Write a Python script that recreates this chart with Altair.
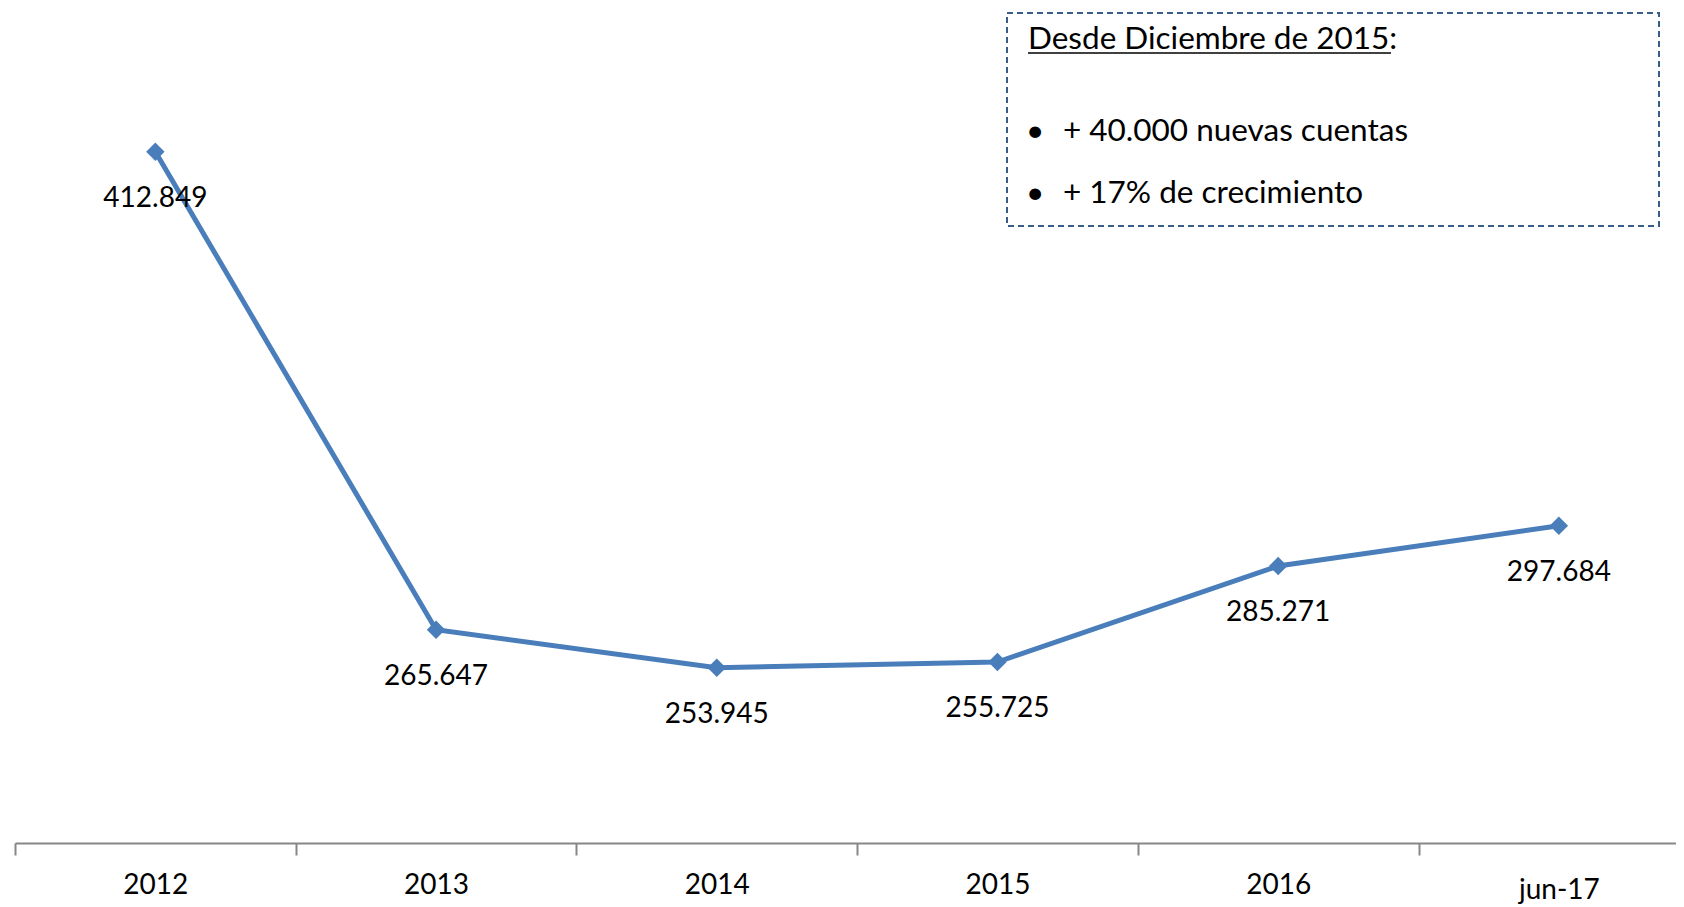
import altair as alt
import pandas as pd

categories = ["2012", "2013", "2014", "2015", "2016", "jun-17"]
values = [412849, 265647, 253945, 255725, 285271, 297684]
box_title = "Desde Diciembre de 2015"
box_bullets = ["+ 40.000 nuevas cuentas", "+ 17% de crecimiento"]

df = pd.DataFrame({"idx": list(range(len(categories))), "cat": categories, "value": values})

FONT = "Lato"
FS = 28
BFS = 31.5
BLUE = "#4A7EBB"
GRAY = "#878787"
W, H = 1661, 812
STEP = 280.7

label_expr = "[" + ",".join(f"'{c}'" for c in categories) + "][round(datum.value + 0.5)]"

x_axis = alt.Axis(
    values=[i - 0.5 for i in range(len(categories))],
    labelExpr=label_expr,
    labelOffset=STEP / 2,
    labelPadding={"condition": {"test": "datum.value > 4", "value": 35}, "value": 30},
    labelBaseline="middle",
    labelAlign="center",
    labelFont=FONT,
    labelFontSize=FS,
    labelColor="black",
    labelFlush=False,
    labelOverlap=False,
    labelBound=False,
    domainColor=GRAY,
    domainWidth=2,
    tickColor=GRAY,
    tickWidth=2,
    tickSize=12,
    grid=False,
    title=None,
)

x_enc = alt.X("idx:Q", scale=alt.Scale(domain=[-0.5, W / STEP - 0.5], nice=False, zero=False), axis=x_axis)
y_enc = alt.Y("value:Q", scale=alt.Scale(domain=[200000, 450000], nice=False, zero=False), axis=None)

base = alt.Chart(df).encode(x=x_enc, y=y_enc)

line = base.mark_line(color=BLUE, strokeWidth=5)
points = base.mark_point(shape="diamond", filled=True, size=340, color=BLUE, opacity=1)
labels = base.transform_calculate(
    lbl="replace(format(datum.value, ','), ',', '.')"
).mark_text(dy=47, fontSize=FS, font=FONT, color="black", align="center", baseline="middle").encode(text="lbl:N")

one = pd.DataFrame({"a": [0]})
box = alt.Chart(one).mark_rect(fill="white", fillOpacity=0, stroke="#385D8A", strokeWidth=2, strokeDash=[6, 4]).encode(
    x=alt.value(992), x2=alt.value(1644), y=alt.value(-18), y2=alt.value(195)
)
title_txt = alt.Chart(one).mark_text(align="left", baseline="middle", fontSize=BFS, font=FONT, color="black").encode(
    x=alt.value(1013), y=alt.value(9), text=alt.value(box_title + ":")
)
underline = alt.Chart(one).mark_rule(color="black", strokeWidth=1.5).encode(
    x=alt.value(1013), x2=alt.value(1376), y=alt.value(22)
)
bullet_dots = alt.Chart(one).mark_text(align="left", baseline="middle", fontSize=BFS, font=FONT, color="black", text="•").encode(
    x=alt.value(1011), y=alt.value(101)
)
bullet_dots2 = alt.Chart(one).mark_text(align="left", baseline="middle", fontSize=BFS, font=FONT, color="black", text="•").encode(
    x=alt.value(1011), y=alt.value(163)
)
b1 = alt.Chart(one).mark_text(align="left", baseline="middle", fontSize=BFS, font=FONT, color="black").encode(
    x=alt.value(1048), y=alt.value(101), text=alt.value(box_bullets[0])
)
b2 = alt.Chart(one).mark_text(align="left", baseline="middle", fontSize=BFS, font=FONT, color="black").encode(
    x=alt.value(1048), y=alt.value(163), text=alt.value(box_bullets[1])
)

chart = alt.layer(line, points, labels, box, title_txt, underline, bullet_dots, bullet_dots2, b1, b2).properties(
    width=W,
    height=H,
    padding={"left": 7, "top": 23, "right": 0, "bottom": 70},
    autosize=alt.AutoSizeParams(type="none"),
).configure_view(stroke=None)

chart.save("out.html", embed_options={"renderer": "svg", "actions": False})
